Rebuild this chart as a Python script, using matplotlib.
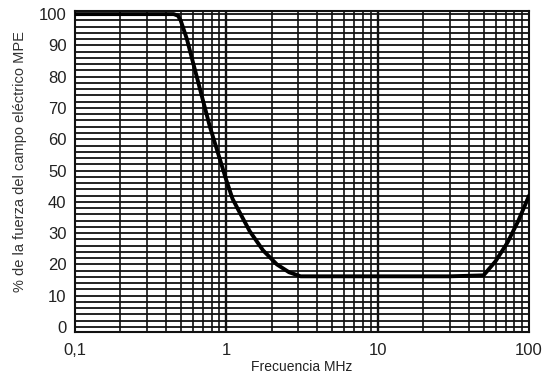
import numpy as np
import matplotlib.pyplot as plt
from matplotlib.ticker import FixedLocator, NullFormatter, FixedFormatter

plt.rcParams['font.family'] = ['Liberation Sans', 'DejaVu Sans']

# curve
freq = [0.1, 0.45, 0.48, 0.5, 0.55, 0.6, 0.78, 1.0, 1.1, 1.2, 1.43, 1.75, 2.16, 2.6, 3.1,
        10, 30, 50, 60, 72, 85, 100]
pct = [100, 100, 99.5, 98, 92, 85, 64, 47, 41, 37.5, 30.6, 24.5, 20, 17.5, 16.2,
       16.2, 16.2, 16.5, 21, 27, 34, 42]

yticks = list(range(0, 101, 10))
xticks = [0.1, 1, 10, 100]
xlabels = ['0,1', '1', '10', '100']

fig = plt.figure(figsize=(5.5, 3.79), dpi=100)
ax = fig.add_axes([0.136, 0.124, 0.826, 0.847])

ax.set_xscale('log')
ax.set_xlim(0.1, 100)
ax.set_ylim(-1.6, 101)

# grid drawn by hand through the axes scales
minor = [m * d for d in (0.1, 1, 10) for m in range(2, 10)]
for x in minor:
    ax.axvline(x, color='#111111', lw=1.2, zorder=1)
for x in [1, 10]:
    ax.axvline(x, color='#111111', lw=1.7, zorder=1)
for y in range(0, 101, 2):
    ax.axhline(y, color='#111111', lw=1.3, zorder=1)

ax.plot(freq, pct, color='black', lw=2.8, zorder=3, solid_capstyle='round')

ax.xaxis.set_major_locator(FixedLocator(xticks))
ax.xaxis.set_major_formatter(FixedFormatter(xlabels))
ax.xaxis.set_minor_locator(FixedLocator([]))
ax.xaxis.set_minor_formatter(NullFormatter())
ax.set_yticks(yticks)
ax.tick_params(length=0, labelsize=12, colors='#222222', pad=6)
ax.tick_params(axis='x', pad=8)

for s in ax.spines.values():
    s.set_linewidth(1.5)
    s.set_color('#111111')

ax.set_xlabel('Frecuencia MHz', fontsize=10, color='#222222', labelpad=1)
ax.set_ylabel('% de la fuerza del campo eléctrico MPE', fontsize=10.5, color='#333333', labelpad=5)
ax.yaxis.set_label_coords(-0.105, 0.53)

fig.savefig('out.png', dpi=100)
